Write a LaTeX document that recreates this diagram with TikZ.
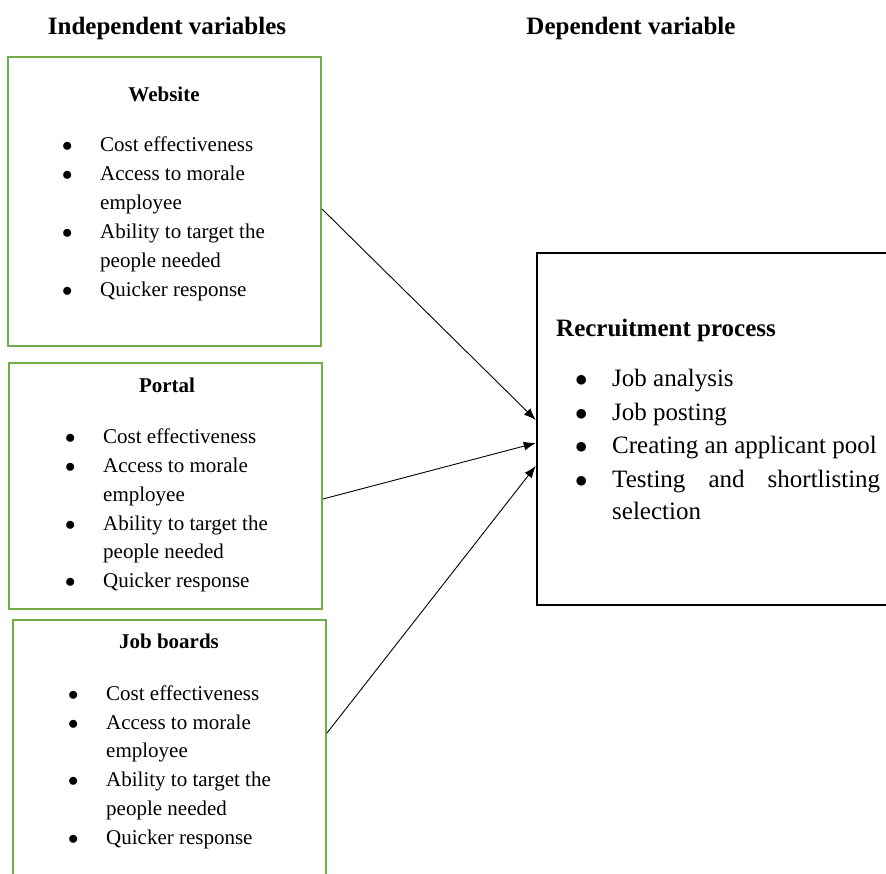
\documentclass[tikz,border=0pt]{standalone}
\usepackage{fontspec}
\setmainfont{Liberation Serif}
\usetikzlibrary{arrows.meta}
\definecolor{boxgreen}{HTML}{70AD47}
\newcommand\bl[2]{\makebox[#1][l]{$\bullet$}#2}
\begin{document}
\begin{tikzpicture}[x=1pt,y=-1pt,
  gbox/.style={draw=boxgreen, line width=2pt, inner sep=0pt},
  rbox/.style={draw=black, line width=2.5pt, inner sep=0pt},
  head/.style={font=\fontsize{25}{30}\selectfont\bfseries, inner sep=0pt, anchor=base},
  ttl/.style={font=\fontsize{21}{25}\selectfont\bfseries, inner sep=0pt, anchor=base},
  itm/.style={font=\fontsize{21}{25}\selectfont, inner sep=0pt, anchor=base west},
  ritm/.style={font=\fontsize{25}{30}\selectfont, inner sep=0pt, anchor=base west},
  arr/.style={-{Latex[length=12pt,width=9pt]}, line width=0.9pt}
]
\useasboundingbox (0,0) rectangle (886,874);
\clip (0,0) rectangle (886,874);

% headings
\node[head] (hind) at (167,35) {Independent variables};
\node[head] (hdep) at (631,35) {Dependent variable};

% boxes
\node[gbox, minimum width=313pt, minimum height=289pt] (web) at (164.5,201.5) {};
\node[gbox, minimum width=313pt, minimum height=246pt] (portal) at (165.5,486) {};
\node[gbox, minimum width=313pt, minimum height=280pt] (job) at (169.5,760) {};
\node[rbox, minimum width=358pt, minimum height=352pt] (rec) at (716,429) {};

% Website
\node[ttl] (wt) at (164,102) {Website};
\node[itm] (w1) at (62,152) {\bl{38pt}{Cost effectiveness}};
\node[itm] (w2) at (62,181) {\bl{38pt}{Access to morale}};
\node[itm] (w3) at (100,210) {employee};
\node[itm] (w4) at (62,239) {\bl{38pt}{Ability to target the}};
\node[itm] (w5) at (100,268) {people needed};
\node[itm] (w6) at (62,297) {\bl{38pt}{Quicker response}};

% Portal
\node[ttl] (pt) at (167,392) {Portal};
\node[itm] (p1) at (65,443) {\bl{38pt}{Cost effectiveness}};
\node[itm] (p2) at (65,472) {\bl{38pt}{Access to morale}};
\node[itm] (p3) at (103,501) {employee};
\node[itm] (p4) at (65,530) {\bl{38pt}{Ability to target the}};
\node[itm] (p5) at (103,558) {people needed};
\node[itm] (p6) at (65,587) {\bl{38pt}{Quicker response}};

% Job boards
\node[ttl] (jt) at (169,648) {Job boards};
\node[itm] (j1) at (68,700) {\bl{38pt}{Cost effectiveness}};
\node[itm] (j2) at (68,729) {\bl{38pt}{Access to morale}};
\node[itm] (j3) at (106,757) {employee};
\node[itm] (j4) at (68,786) {\bl{38pt}{Ability to target the}};
\node[itm] (j5) at (106,815) {people needed};
\node[itm] (j6) at (68,844) {\bl{38pt}{Quicker response}};

% Recruitment process
\node[head, anchor=base west] (rt) at (556,337) {Recruitment process};
\node[ritm] (r1) at (575,387) {\bl{37pt}{Job analysis}};
\node[ritm] (r2) at (575,420) {\bl{37pt}{Job posting}};
\node[ritm] (r3) at (575,453) {\bl{37pt}{Creating an applicant pool}};
\node[ritm] (r4) at (575,487) {\bl{37pt}{\hbox to 268pt{Testing\hfill and\hfill shortlisting}}};
\node[ritm] (r5) at (612,519) {selection};

% arrows
\draw[arr] ([yshift=-7.5pt]web.east) -- ([yshift=9pt]rec.west);
\draw[arr] ([yshift=-13pt]portal.east) -- ([yshift=-14pt]rec.west);
\draw[arr] ([yshift=27pt]job.east) -- ([yshift=-37pt]rec.west);
\end{tikzpicture}
\end{document}
